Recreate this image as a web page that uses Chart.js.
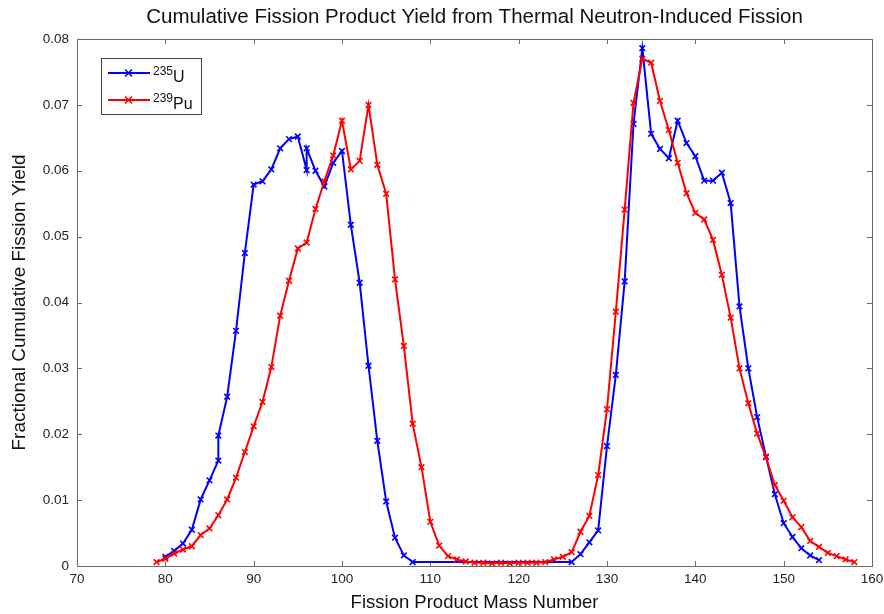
<!DOCTYPE html>
<html>
<head>
<meta charset="utf-8">
<script src="https://cdn.jsdelivr.net/npm/chart.js@4.4.1/dist/chart.umd.min.js"></script>
<style>
  html, body { margin: 0; padding: 0; background: #fff; }
  #wrap { width: 884px; height: 614px; }
</style>
</head>
<body>
<div id="wrap"><canvas id="yieldChart" width="884" height="614"></canvas></div>
<script>
// mass numbers and cumulative yields, thermal fission
const massU235 = [80, 81, 82, 83, 84, 85, 86, 86, 87, 88, 89, 90, 91, 92, 93, 94, 95, 96, 96, 97, 98, 99, 100,
  101, 102, 103, 104, 105, 106, 107, 108, 126, 127, 128, 129, 130, 131, 132, 133, 134, 135, 136, 137, 138,
  139, 140, 141, 142, 143, 144, 145, 146, 147, 148, 149, 150, 151, 152, 153, 154];
const yieldU235 = [0.0014, 0.0023, 0.0034, 0.0055, 0.0101, 0.0130, 0.0160, 0.0198, 0.0257, 0.0357, 0.0475,
  0.0579, 0.0584, 0.0602, 0.0634, 0.0648, 0.0652, 0.0601, 0.0634, 0.0600, 0.0576, 0.0612, 0.0630,
  0.0518, 0.0430, 0.0304, 0.0190, 0.0098, 0.0043, 0.0016, 0.0006, 0.0006, 0.0018, 0.0036, 0.0054, 0.0182,
  0.0290, 0.0432, 0.0671, 0.0786, 0.0656, 0.0633, 0.0619, 0.0676, 0.0642, 0.0622, 0.0585, 0.0585, 0.0597,
  0.0551, 0.0394, 0.0300, 0.0226, 0.0166, 0.0109, 0.0065, 0.0044, 0.0027, 0.0016, 0.0009];

const massPu239 = [79, 80, 81, 82, 83, 84, 85, 86, 87, 88, 89, 90, 91, 92, 93, 94, 95, 96, 97, 98, 99, 100,
  101, 102, 103, 104, 105, 106, 107, 108, 109, 110, 111, 112, 113, 114, 115, 116, 117, 118, 119, 120,
  121, 122, 123, 124, 125, 126, 127, 128, 129, 130, 131, 132, 133, 134, 135, 136, 137, 138, 139, 140,
  141, 142, 143, 144, 145, 146, 147, 148, 149, 150, 151, 152, 153, 154, 155, 156, 157, 158];
const yieldPu239 = [0.0006, 0.0011, 0.0019, 0.0025, 0.0030, 0.0047, 0.0057, 0.0077, 0.0101, 0.0134, 0.0173,
  0.0212, 0.0249, 0.0302, 0.0380, 0.0433, 0.0482, 0.0491, 0.0542, 0.0584, 0.0623, 0.0676,
  0.0602, 0.0615, 0.0700, 0.0609, 0.0565, 0.0435, 0.0334, 0.0216, 0.0150, 0.0067, 0.0031, 0.0015,
  0.0010, 0.0007, 0.0005, 0.0005, 0.0004, 0.0005, 0.0004, 0.0005, 0.0005, 0.0005, 0.0006, 0.0010,
  0.0014, 0.0021, 0.0052, 0.0076, 0.0138, 0.0238, 0.0386, 0.0541, 0.0703, 0.0770, 0.0764, 0.0706,
  0.0662, 0.0612, 0.0566, 0.0536, 0.0526, 0.0495, 0.0442, 0.0377, 0.0300, 0.0247, 0.0201, 0.0165,
  0.0123, 0.0099, 0.0074, 0.0059, 0.0038, 0.0029, 0.0020, 0.0015, 0.0010, 0.0006];

const xTicks = [70, 80, 90, 100, 110, 120, 130, 140, 150, 160];
const yTicks = [0, 0.01, 0.02, 0.03, 0.04, 0.05, 0.06, 0.07, 0.08];

const legendItems = [
  { sup: '235', sym: 'U', color: '#0000ff' },
  { sup: '239', sym: 'Pu', color: '#ff0000' }
];

const FONT = "'Liberation Sans', Arial, Helvetica, sans-serif";
const AXIS_COLOR = '#6a6a6a';

function toPoints(xs, ys) {
  return xs.map((x, i) => ({ x: x, y: ys[i] }));
}

function drawCross(ctx, x, y, r) {
  ctx.beginPath();
  ctx.moveTo(x - r, y - r); ctx.lineTo(x + r, y + r);
  ctx.moveTo(x - r, y + r); ctx.lineTo(x + r, y - r);
  ctx.stroke();
}

// box, inward ticks, title and legend
const frame = {
  id: 'frame',
  beforeDatasetsDraw(chart) {
    const { ctx, chartArea: a, scales } = chart;
    ctx.save();
    ctx.strokeStyle = AXIS_COLOR;
    ctx.lineWidth = 1;
    ctx.strokeRect(Math.round(a.left) + 0.5, Math.round(a.top) + 0.5,
      Math.round(a.right - a.left), Math.round(a.bottom - a.top));
    const tl = 5;
    ctx.beginPath();
    xTicks.forEach(v => {
      const px = Math.round(scales.x.getPixelForValue(v)) + 0.5;
      ctx.moveTo(px, a.bottom); ctx.lineTo(px, a.bottom - tl);
      ctx.moveTo(px, a.top); ctx.lineTo(px, a.top + tl);
    });
    yTicks.forEach(v => {
      const py = Math.round(scales.y.getPixelForValue(v)) + 0.5;
      ctx.moveTo(a.left, py); ctx.lineTo(a.left + tl, py);
      ctx.moveTo(a.right, py); ctx.lineTo(a.right - tl, py);
    });
    ctx.stroke();

    ctx.fillStyle = '#111';
    ctx.font = '20.5px ' + FONT;
    ctx.textAlign = 'center';
    ctx.textBaseline = 'middle';
    ctx.fillText('Cumulative Fission Product Yield from Thermal Neutron-Induced Fission',
      (a.left + a.right) / 2, 17);
    ctx.restore();
  },
  afterDraw(chart) {
    const ctx = chart.ctx;
    const bx = 101, by = 58, bw = 100, bh = 56;
    ctx.save();
    ctx.fillStyle = '#fff';
    ctx.fillRect(bx, by, bw, bh);
    ctx.strokeStyle = '#444';
    ctx.lineWidth = 1;
    ctx.strokeRect(bx + 0.5, by + 0.5, bw, bh);
    legendItems.forEach((it, i) => {
      const ly = 73 + i * 27;
      ctx.strokeStyle = it.color;
      ctx.lineWidth = 2;
      ctx.beginPath();
      ctx.moveTo(108, ly); ctx.lineTo(150, ly);
      ctx.stroke();
      ctx.lineWidth = 1.6;
      drawCross(ctx, 128.5, ly, 3.5);
      ctx.fillStyle = '#111';
      ctx.textAlign = 'left';
      ctx.textBaseline = 'alphabetic';
      ctx.font = '12px ' + FONT;
      ctx.fillText(it.sup, 153, ly + 2);
      const w = ctx.measureText(it.sup).width;
      ctx.font = '16px ' + FONT;
      ctx.fillText(it.sym, 153 + w, ly + 9);
    });
    ctx.restore();
  }
};

new Chart(document.getElementById('yieldChart'), {
  type: 'line',
  data: {
    datasets: [
      {
        label: '235U',
        data: toPoints(massU235, yieldU235),
        borderColor: '#0000ff',
        backgroundColor: '#0000ff',
        borderWidth: 2,
        pointStyle: 'crossRot',
        pointRadius: 4,
        pointBorderWidth: 1.6,
        tension: 0,
        order: 1
      },
      {
        label: '239Pu',
        data: toPoints(massPu239, yieldPu239),
        borderColor: '#ff0000',
        backgroundColor: '#ff0000',
        borderWidth: 2,
        pointStyle: 'crossRot',
        pointRadius: 4,
        pointBorderWidth: 1.6,
        tension: 0,
        order: 0
      }
    ]
  },
  options: {
    responsive: false,
    animation: false,
    layout: { padding: { top: 39, right: 12, left: 0, bottom: 0 } },
    plugins: {
      legend: { display: false },
      title: { display: false },
      tooltip: { enabled: false }
    },
    scales: {
      x: {
        type: 'linear',
        min: 70,
        max: 160,
        grid: { display: false, drawTicks: false },
        border: { display: false },
        afterFit(scale) {
          scale.height = 48;
          scale.paddingLeft = 0;
          scale.paddingRight = 0;
        },
        afterBuildTicks(scale) {
          scale.ticks = xTicks.map(v => ({ value: v }));
        },
        ticks: {
          padding: 5,
          color: '#222',
          font: { family: FONT, size: 13.5 },
          maxRotation: 0
        },
        title: {
          display: true,
          text: 'Fission Product Mass Number',
          color: '#111',
          font: { family: FONT, size: 18.5 },
          padding: { top: 0, bottom: 0 }
        }
      },
      y: {
        min: 0,
        max: 0.08,
        grid: { display: false, drawTicks: false },
        border: { display: false },
        afterFit(scale) {
          scale.width = 77;
          scale.paddingTop = 0;
          scale.paddingBottom = 0;
        },
        afterBuildTicks(scale) {
          scale.ticks = yTicks.map(v => ({ value: v }));
        },
        ticks: {
          padding: 8,
          color: '#222',
          font: { family: FONT, size: 13.5 },
          callback: v => (v === 0 ? '0' : v.toFixed(2))
        },
        title: {
          display: true,
          text: 'Fractional Cumulative Fission Yield',
          color: '#111',
          font: { family: FONT, size: 19 },
          padding: { top: 8, bottom: 0 }
        }
      }
    }
  },
  plugins: [frame]
});
</script>
</body>
</html>
